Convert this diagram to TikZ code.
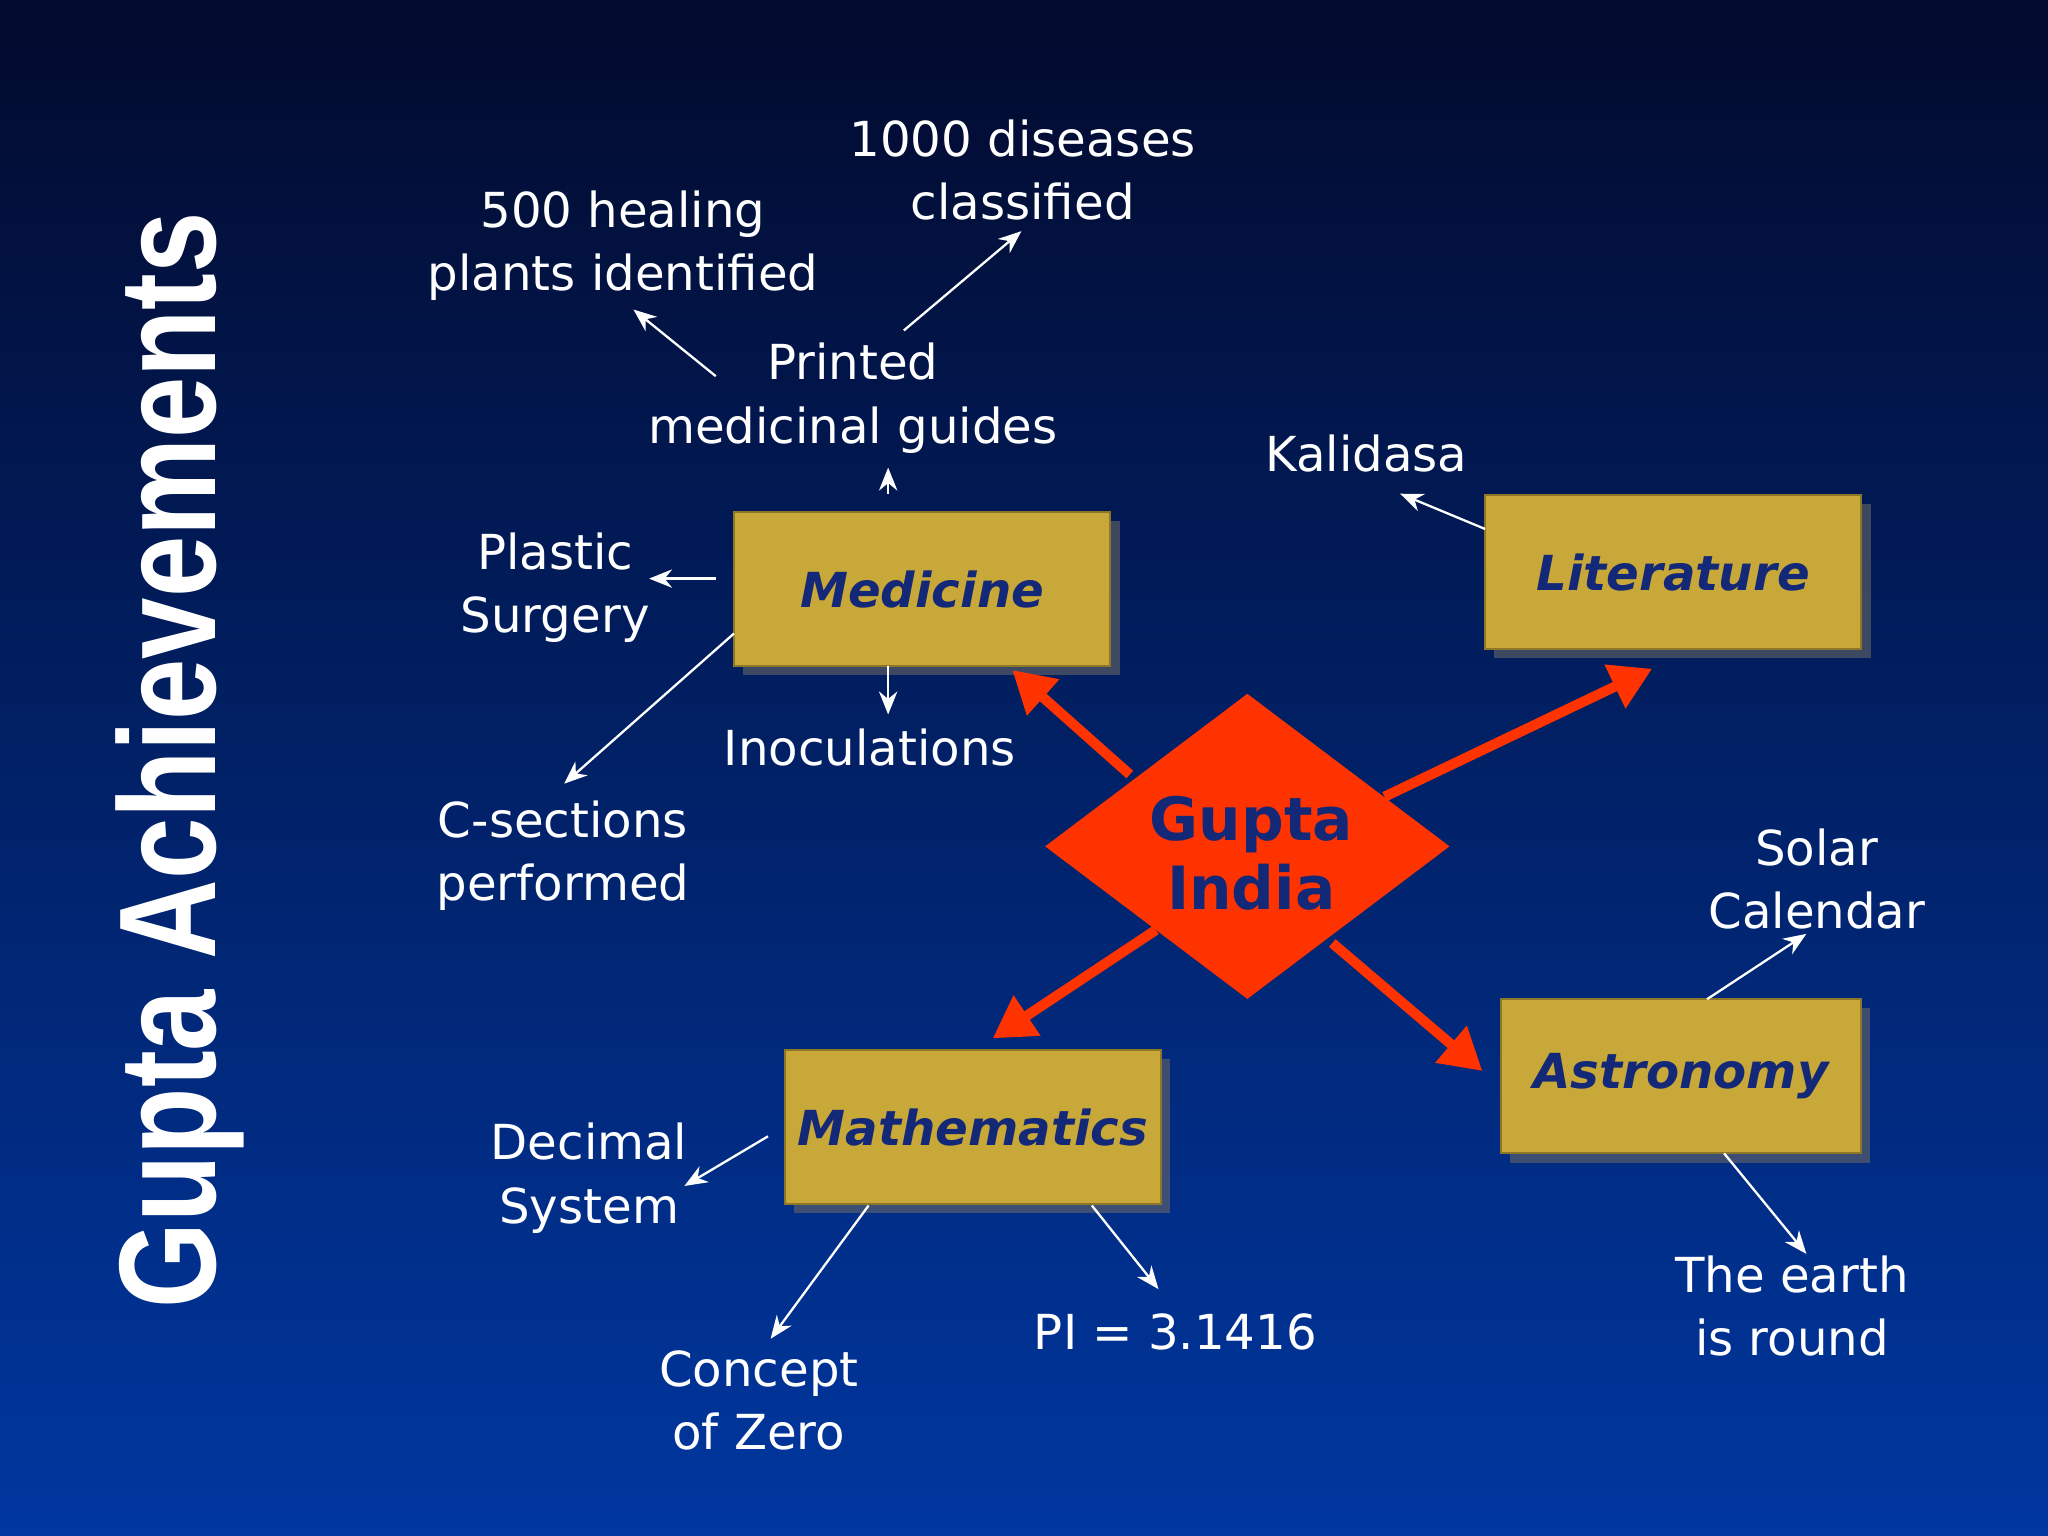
\documentclass[tikz,border=0pt]{standalone}
\usepackage{fontspec}
\setmainfont{DejaVu Sans}
\newfontfamily\titlefont{Liberation Sans}
\usetikzlibrary{shapes.geometric,arrows.meta,shadows}
\definecolor{gold}{RGB}{200,168,56}
\definecolor{navy}{RGB}{20,40,120}
\definecolor{redo}{RGB}{255,51,0}
\tikzset{
 box/.style={fill=gold,draw=gold!70!black,minimum width=2.88cm,minimum height=1.18cm,inner sep=0pt,font=\fontsize{10.5}{12}\selectfont\itshape\bfseries,text=navy,drop shadow={shadow xshift=2pt,shadow yshift=-2pt,fill=black!60,opacity=.6}},
 lbl/.style={text=white,align=center,font=\fontsize{10.5}{13.8}\selectfont},
 thin/.style={draw=white,line width=0.5pt,-{Stealth[length=5pt,width=4pt]}},
 big/.style={draw=redo,line width=2.2pt,-{Triangle[length=9pt,width=10pt]}}
}
\begin{document}
\begin{tikzpicture}[x=0.01cm,y=-0.01cm]
\shade[top color={rgb,255:red,2;green,10;blue,45},bottom color={rgb,255:red,0;green,55;blue,160}] (0,0) rectangle (1568,1176);
\useasboundingbox (0,0) rectangle (1568,1176);
\node[rotate=90,text=white,font=\titlefont\bfseries\fontsize{30}{30}\selectfont,inner sep=0pt] (title) at (138,582) {\scalebox{0.8}[1]{Gupta Achievements}};
% boxes
\node[box] (med) at (706,451) {Medicine};
\node[box] (lit) at (1281,438) {Literature};
\node[box,minimum width=2.75cm] (ast) at (1287,824) {Astronomy};
\node[box] (math) at (745,863) {Mathematics};
\node[diamond,fill=redo,minimum width=3.1cm,minimum height=2.34cm,inner sep=0pt,aspect=1.33] (gi) at (955,648) {};
\node[font=\fontsize{13}{15}\selectfont\bfseries,text=navy,align=center] (git) at (958,653) {Gupta\\India};
% red arrows
\coordinate (r1s) at (865,593); \coordinate (r1e) at (775,513);
\coordinate (r2s) at (1060,610); \coordinate (r2e) at (1265,512);
\coordinate (r3s) at (885,712); \coordinate (r3e) at (760,795);
\coordinate (r4s) at (1020,722); \coordinate (r4e) at (1135,820);
\draw[big] (r1s) -- (r1e);
\draw[big] (r2s) -- (r2e);
\draw[big] (r3s) -- (r3e);
\draw[big] (r4s) -- (r4e);
% labels
\node[lbl] (l500) at (477,188) {500 healing\\plants identified};
\node[lbl] (l1000) at (783,130) {1000 diseases\\classified};
\node[lbl] (lpr) at (653,305) {Printed\\medicinal guides};
\node[lbl] (lps) at (425,450) {Plastic\\Surgery};
\node[lbl] (lcs) at (431,655) {C-sections\\performed};
\node[lbl] (lin) at (666,572) {Inoculations};
\node[lbl] (lka) at (1046,347) {Kalidasa};
\node[lbl] (lsc) at (1391,673) {Solar\\Calendar};
\node[lbl] (ler) at (1372,1000) {The earth\\is round};
\node[lbl] (lde) at (451,902) {Decimal\\System};
\node[lbl] (lze) at (581,1072) {Concept\\of Zero};
\node[lbl] (lpi) at (900,1020) {PI = 3.1416};
% thin arrows
\foreach \n/\a/\b/\c/\d in {a/548/288/485/237, b/692/253/782/177, c/680/378/680/358, d/548/443/497/443, e/562/485/432/600, f/680/510/680/547, g/1137/405/1072/378, h/1307/765/1383/715, i/1320/883/1383/960, j/588/870/524/908, k/665/923/590/1025, l/836/923/887/987}{
 \coordinate (\n s) at (\a,\b); \coordinate (\n e) at (\c,\d);
 \draw[thin] (\n s) -- (\n e);
}
\end{tikzpicture}
\end{document}
